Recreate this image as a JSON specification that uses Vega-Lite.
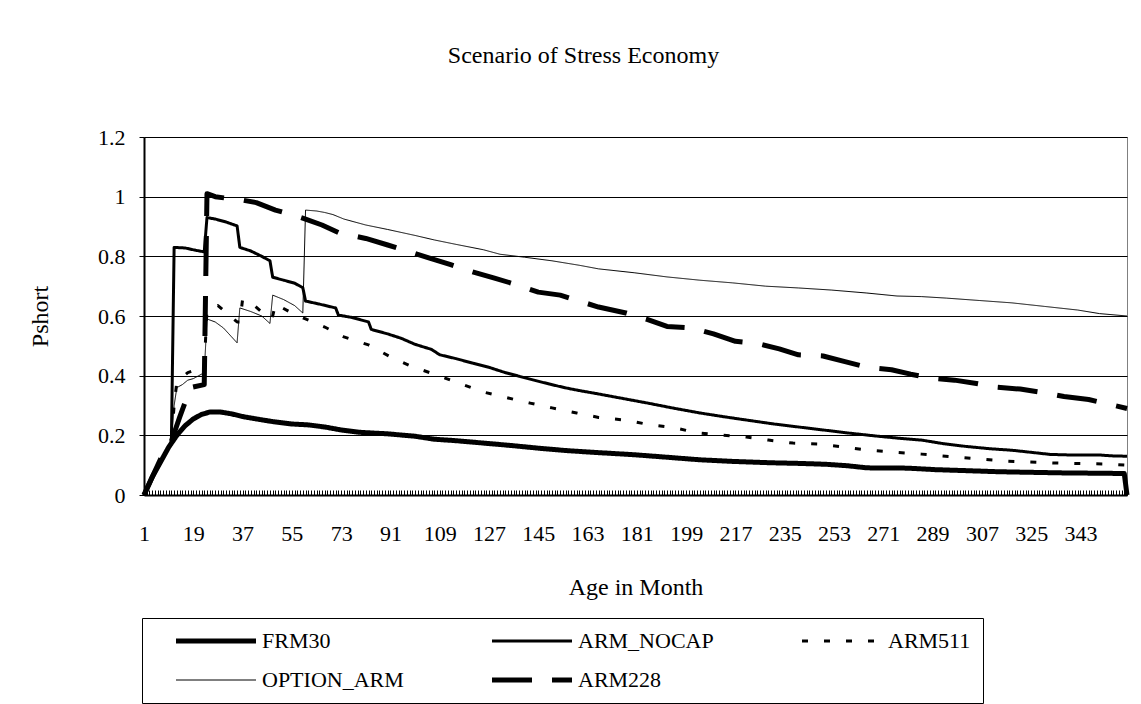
{
  "$schema": "https://vega.github.io/schema/vega-lite/v6.json",
  "autosize": "none",
  "width": 983,
  "height": 358,
  "padding": {"left": 144, "top": 137, "right": 14, "bottom": 209},
  "background": "white",
  "title": {
    "text": "Scenario of Stress Economy",
    "font": "Liberation Serif",
    "fontSize": 24,
    "fontWeight": "normal",
    "color": "black",
    "anchor": "middle",
    "offset": 58,
    "dx": -52
  },
  "datasets": {
    "pts": [
      {"series":"FRM30","month":1,"value":0},{"series":"FRM30","month":4,"value":0.06},{"series":"FRM30","month":7,"value":0.11},{"series":"FRM30","month":10,"value":0.16},{"series":"FRM30","month":13,"value":0.2},{"series":"FRM30","month":16,"value":0.232},{"series":"FRM30","month":19,"value":0.255},{"series":"FRM30","month":22,"value":0.27},{"series":"FRM30","month":25,"value":0.278},{"series":"FRM30","month":29,"value":0.278},{"series":"FRM30","month":33,"value":0.272},{"series":"FRM30","month":37,"value":0.263},{"series":"FRM30","month":42,"value":0.255},{"series":"FRM30","month":48,"value":0.246},{"series":"FRM30","month":55,"value":0.238},{"series":"FRM30","month":61,"value":0.235},{"series":"FRM30","month":67,"value":0.228},{"series":"FRM30","month":73,"value":0.218},{"series":"FRM30","month":80,"value":0.21},{"series":"FRM30","month":90,"value":0.205},{"series":"FRM30","month":100,"value":0.197},{"series":"FRM30","month":107,"value":0.187},{"series":"FRM30","month":115,"value":0.182},{"series":"FRM30","month":125,"value":0.174},{"series":"FRM30","month":135,"value":0.166},{"series":"FRM30","month":145,"value":0.157},{"series":"FRM30","month":155,"value":0.149},{"series":"FRM30","month":167,"value":0.142},{"series":"FRM30","month":180,"value":0.135},{"series":"FRM30","month":190,"value":0.128},{"series":"FRM30","month":204,"value":0.118},{"series":"FRM30","month":215,"value":0.113},{"series":"FRM30","month":230,"value":0.108},{"series":"FRM30","month":240,"value":0.106},{"series":"FRM30","month":250,"value":0.103},{"series":"FRM30","month":258,"value":0.098},{"series":"FRM30","month":265,"value":0.091},{"series":"FRM30","month":280,"value":0.09},{"series":"FRM30","month":290,"value":0.085},{"series":"FRM30","month":300,"value":0.082},{"series":"FRM30","month":313,"value":0.078},{"series":"FRM30","month":325,"value":0.076},{"series":"FRM30","month":337,"value":0.074},{"series":"FRM30","month":350,"value":0.073},{"series":"FRM30","month":359,"value":0.072},{"series":"FRM30","month":360,"value":0},

      {"series":"ARM_NOCAP","month":1,"value":0},{"series":"ARM_NOCAP","month":4,"value":0.06},{"series":"ARM_NOCAP","month":7,"value":0.11},{"series":"ARM_NOCAP","month":10,"value":0.16},{"series":"ARM_NOCAP","month":11,"value":0.18},{"series":"ARM_NOCAP","month":12,"value":0.83},{"series":"ARM_NOCAP","month":16,"value":0.828},{"series":"ARM_NOCAP","month":20,"value":0.82},{"series":"ARM_NOCAP","month":23,"value":0.815},{"series":"ARM_NOCAP","month":24,"value":0.93},{"series":"ARM_NOCAP","month":27,"value":0.925},{"series":"ARM_NOCAP","month":31,"value":0.915},{"series":"ARM_NOCAP","month":35,"value":0.902},{"series":"ARM_NOCAP","month":36,"value":0.83},{"series":"ARM_NOCAP","month":40,"value":0.818},{"series":"ARM_NOCAP","month":44,"value":0.8},{"series":"ARM_NOCAP","month":47,"value":0.785},{"series":"ARM_NOCAP","month":48,"value":0.73},{"series":"ARM_NOCAP","month":52,"value":0.72},{"series":"ARM_NOCAP","month":56,"value":0.71},{"series":"ARM_NOCAP","month":59,"value":0.695},{"series":"ARM_NOCAP","month":60,"value":0.65},{"series":"ARM_NOCAP","month":65,"value":0.64},{"series":"ARM_NOCAP","month":71,"value":0.627},{"series":"ARM_NOCAP","month":72,"value":0.603},{"series":"ARM_NOCAP","month":77,"value":0.595},{"series":"ARM_NOCAP","month":83,"value":0.58},{"series":"ARM_NOCAP","month":84,"value":0.555},{"series":"ARM_NOCAP","month":90,"value":0.54},{"series":"ARM_NOCAP","month":95,"value":0.525},{"series":"ARM_NOCAP","month":100,"value":0.505},{"series":"ARM_NOCAP","month":106,"value":0.488},{"series":"ARM_NOCAP","month":109,"value":0.47},{"series":"ARM_NOCAP","month":115,"value":0.457},{"series":"ARM_NOCAP","month":121,"value":0.442},{"series":"ARM_NOCAP","month":127,"value":0.428},{"series":"ARM_NOCAP","month":133,"value":0.41},{"series":"ARM_NOCAP","month":138,"value":0.398},{"series":"ARM_NOCAP","month":143,"value":0.386},{"series":"ARM_NOCAP","month":149,"value":0.372},{"series":"ARM_NOCAP","month":155,"value":0.359},{"series":"ARM_NOCAP","month":160,"value":0.35},{"series":"ARM_NOCAP","month":165,"value":0.342},{"series":"ARM_NOCAP","month":175,"value":0.325},{"series":"ARM_NOCAP","month":185,"value":0.308},{"series":"ARM_NOCAP","month":195,"value":0.29},{"series":"ARM_NOCAP","month":204,"value":0.275},{"series":"ARM_NOCAP","month":213,"value":0.262},{"series":"ARM_NOCAP","month":222,"value":0.25},{"series":"ARM_NOCAP","month":231,"value":0.238},{"series":"ARM_NOCAP","month":240,"value":0.228},{"series":"ARM_NOCAP","month":249,"value":0.218},{"series":"ARM_NOCAP","month":258,"value":0.208},{"series":"ARM_NOCAP","month":268,"value":0.198},{"series":"ARM_NOCAP","month":277,"value":0.19},{"series":"ARM_NOCAP","month":285,"value":0.184},{"series":"ARM_NOCAP","month":293,"value":0.172},{"series":"ARM_NOCAP","month":301,"value":0.163},{"series":"ARM_NOCAP","month":310,"value":0.155},{"series":"ARM_NOCAP","month":318,"value":0.15},{"series":"ARM_NOCAP","month":325,"value":0.143},{"series":"ARM_NOCAP","month":332,"value":0.136},{"series":"ARM_NOCAP","month":340,"value":0.134},{"series":"ARM_NOCAP","month":350,"value":0.134},{"series":"ARM_NOCAP","month":355,"value":0.131},{"series":"ARM_NOCAP","month":360,"value":0.13},

      {"series":"ARM511","month":1,"value":0},{"series":"ARM511","month":4,"value":0.06},{"series":"ARM511","month":7,"value":0.11},{"series":"ARM511","month":10,"value":0.16},{"series":"ARM511","month":11,"value":0.18},{"series":"ARM511","month":12,"value":0.3},{"series":"ARM511","month":13,"value":0.38},{"series":"ARM511","month":17,"value":0.41},{"series":"ARM511","month":23,"value":0.43},{"series":"ARM511","month":24,"value":0.62},{"series":"ARM511","month":28,"value":0.635},{"series":"ARM511","month":35,"value":0.58},{"series":"ARM511","month":36,"value":0.58},{"series":"ARM511","month":37,"value":0.655},{"series":"ARM511","month":40,"value":0.645},{"series":"ARM511","month":47,"value":0.59},{"series":"ARM511","month":48,"value":0.6},{"series":"ARM511","month":49,"value":0.64},{"series":"ARM511","month":55,"value":0.61},{"series":"ARM511","month":60,"value":0.59},{"series":"ARM511","month":67,"value":0.563},{"series":"ARM511","month":74,"value":0.53},{"series":"ARM511","month":83,"value":0.503},{"series":"ARM511","month":91,"value":0.463},{"series":"ARM511","month":99,"value":0.43},{"series":"ARM511","month":108,"value":0.402},{"series":"ARM511","month":116,"value":0.375},{"series":"ARM511","month":125,"value":0.345},{"series":"ARM511","month":134,"value":0.325},{"series":"ARM511","month":142,"value":0.308},{"series":"ARM511","month":150,"value":0.292},{"series":"ARM511","month":159,"value":0.275},{"series":"ARM511","month":167,"value":0.26},{"series":"ARM511","month":177,"value":0.251},{"series":"ARM511","month":186,"value":0.235},{"series":"ARM511","month":195,"value":0.225},{"series":"ARM511","month":203,"value":0.208},{"series":"ARM511","month":212,"value":0.201},{"series":"ARM511","month":221,"value":0.194},{"series":"ARM511","month":229,"value":0.184},{"series":"ARM511","month":238,"value":0.174},{"series":"ARM511","month":247,"value":0.171},{"series":"ARM511","month":256,"value":0.161},{"series":"ARM511","month":265,"value":0.151},{"series":"ARM511","month":273,"value":0.145},{"series":"ARM511","month":285,"value":0.137},{"series":"ARM511","month":298,"value":0.127},{"series":"ARM511","month":315,"value":0.114},{"series":"ARM511","month":334,"value":0.107},{"series":"ARM511","month":352,"value":0.104},{"series":"ARM511","month":360,"value":0.1},

      {"series":"OPTION_ARM","month":1,"value":0},{"series":"OPTION_ARM","month":4,"value":0.06},{"series":"OPTION_ARM","month":7,"value":0.11},{"series":"OPTION_ARM","month":10,"value":0.16},{"series":"OPTION_ARM","month":11,"value":0.18},{"series":"OPTION_ARM","month":12,"value":0.3},{"series":"OPTION_ARM","month":13,"value":0.36},{"series":"OPTION_ARM","month":15,"value":0.37},{"series":"OPTION_ARM","month":17,"value":0.385},{"series":"OPTION_ARM","month":19,"value":0.39},{"series":"OPTION_ARM","month":21,"value":0.4},{"series":"OPTION_ARM","month":23,"value":0.41},{"series":"OPTION_ARM","month":24,"value":0.59},{"series":"OPTION_ARM","month":27,"value":0.58},{"series":"OPTION_ARM","month":30,"value":0.56},{"series":"OPTION_ARM","month":33,"value":0.53},{"series":"OPTION_ARM","month":35,"value":0.51},{"series":"OPTION_ARM","month":36,"value":0.627},{"series":"OPTION_ARM","month":40,"value":0.615},{"series":"OPTION_ARM","month":44,"value":0.6},{"series":"OPTION_ARM","month":47,"value":0.575},{"series":"OPTION_ARM","month":48,"value":0.67},{"series":"OPTION_ARM","month":52,"value":0.655},{"series":"OPTION_ARM","month":56,"value":0.635},{"series":"OPTION_ARM","month":59,"value":0.61},{"series":"OPTION_ARM","month":60,"value":0.955},{"series":"OPTION_ARM","month":64,"value":0.952},{"series":"OPTION_ARM","month":67,"value":0.947},{"series":"OPTION_ARM","month":70,"value":0.94},{"series":"OPTION_ARM","month":74,"value":0.925},{"series":"OPTION_ARM","month":78,"value":0.915},{"series":"OPTION_ARM","month":82,"value":0.905},{"series":"OPTION_ARM","month":90,"value":0.89},{"series":"OPTION_ARM","month":100,"value":0.87},{"series":"OPTION_ARM","month":107,"value":0.855},{"series":"OPTION_ARM","month":115,"value":0.84},{"series":"OPTION_ARM","month":125,"value":0.822},{"series":"OPTION_ARM","month":131,"value":0.807},{"series":"OPTION_ARM","month":140,"value":0.797},{"series":"OPTION_ARM","month":150,"value":0.785},{"series":"OPTION_ARM","month":160,"value":0.77},{"series":"OPTION_ARM","month":167,"value":0.758},{"series":"OPTION_ARM","month":180,"value":0.745},{"series":"OPTION_ARM","month":192,"value":0.731},{"series":"OPTION_ARM","month":204,"value":0.72},{"series":"OPTION_ARM","month":216,"value":0.711},{"series":"OPTION_ARM","month":228,"value":0.7},{"series":"OPTION_ARM","month":240,"value":0.694},{"series":"OPTION_ARM","month":252,"value":0.687},{"series":"OPTION_ARM","month":265,"value":0.677},{"series":"OPTION_ARM","month":276,"value":0.667},{"series":"OPTION_ARM","month":285,"value":0.665},{"series":"OPTION_ARM","month":294,"value":0.66},{"series":"OPTION_ARM","month":306,"value":0.652},{"series":"OPTION_ARM","month":318,"value":0.644},{"series":"OPTION_ARM","month":330,"value":0.632},{"series":"OPTION_ARM","month":342,"value":0.62},{"series":"OPTION_ARM","month":350,"value":0.608},{"series":"OPTION_ARM","month":360,"value":0.6},

      {"series":"ARM228","month":1,"value":0},{"series":"ARM228","month":4,"value":0.06},{"series":"ARM228","month":7,"value":0.12},{"series":"ARM228","month":11,"value":0.18},{"series":"ARM228","month":14,"value":0.26},{"series":"ARM228","month":18,"value":0.36},{"series":"ARM228","month":23,"value":0.37},{"series":"ARM228","month":24,"value":1.01},{"series":"ARM228","month":27,"value":1.0},{"series":"ARM228","month":31,"value":0.995},{"series":"ARM228","month":36,"value":0.99},{"series":"ARM228","month":42,"value":0.98},{"series":"ARM228","month":49,"value":0.955},{"series":"ARM228","month":55,"value":0.94},{"series":"ARM228","month":60,"value":0.925},{"series":"ARM228","month":66,"value":0.905},{"series":"ARM228","month":72,"value":0.88},{"series":"ARM228","month":82,"value":0.86},{"series":"ARM228","month":90,"value":0.838},{"series":"ARM228","month":98,"value":0.815},{"series":"ARM228","month":105,"value":0.795},{"series":"ARM228","month":113,"value":0.772},{"series":"ARM228","month":121,"value":0.748},{"series":"ARM228","month":129,"value":0.727},{"series":"ARM228","month":137,"value":0.705},{"series":"ARM228","month":145,"value":0.68},{"series":"ARM228","month":153,"value":0.67},{"series":"ARM228","month":160,"value":0.65},{"series":"ARM228","month":167,"value":0.63},{"series":"ARM228","month":177,"value":0.61},{"series":"ARM228","month":185,"value":0.588},{"series":"ARM228","month":192,"value":0.565},{"series":"ARM228","month":201,"value":0.56},{"series":"ARM228","month":209,"value":0.54},{"series":"ARM228","month":217,"value":0.515},{"series":"ARM228","month":225,"value":0.508},{"series":"ARM228","month":233,"value":0.49},{"series":"ARM228","month":240,"value":0.47},{"series":"ARM228","month":249,"value":0.466},{"series":"ARM228","month":257,"value":0.447},{"series":"ARM228","month":265,"value":0.428},{"series":"ARM228","month":274,"value":0.42},{"series":"ARM228","month":281,"value":0.405},{"series":"ARM228","month":288,"value":0.392},{"series":"ARM228","month":297,"value":0.385},{"series":"ARM228","month":305,"value":0.374},{"series":"ARM228","month":312,"value":0.362},{"series":"ARM228","month":321,"value":0.355},{"series":"ARM228","month":329,"value":0.344},{"series":"ARM228","month":337,"value":0.33},{"series":"ARM228","month":346,"value":0.32},{"series":"ARM228","month":353,"value":0.305},{"series":"ARM228","month":360,"value":0.29}
    ]
  },
  "data": {"name": "pts"},
  "mark": {"type": "line", "color": "black", "strokeCap": "butt", "strokeJoin": "round"},
  "encoding": {
    "x": {
      "field": "month",
      "type": "quantitative",
      "scale": {"domain": [1, 360], "nice": false, "zero": false},
      "axis": {
        "tickCount": 359,
        "labelExpr": "(datum.value - 1) % 18 === 0 && datum.value <= 343 ? datum.label : ''",
        "labelOverlap": false,
        "labelFlush": false,
        "labelBound": false,
        "labelFont": "Liberation Serif",
        "labelFontSize": 22,
        "labelColor": "black",
        "labelPadding": 33,
        "tickSize": -5,
        "tickColor": "black",
        "tickWidth": 1,
        "domainColor": "black",
        "domainWidth": 2,
        "grid": false,
        "title": "Age in Month",
        "titleFont": "Liberation Serif",
        "titleFontSize": 24,
        "titleFontWeight": "normal",
        "titleColor": "black",
        "titlePadding": 31
      }
    },
    "y": {
      "field": "value",
      "type": "quantitative",
      "scale": {"domain": [0, 1.2], "nice": false},
      "axis": {
        "values": [0, 0.2, 0.4, 0.6, 0.8, 1, 1.2],
        "format": "~g",
        "labelFont": "Liberation Serif",
        "labelFontSize": 22,
        "labelColor": "black",
        "labelPadding": 14,
        "tickSize": 5,
        "tickColor": "black",
        "domainColor": "black",
        "domainWidth": 2,
        "grid": true,
        "gridColor": "black",
        "gridWidth": 1,
        "gridOpacity": 1,
        "title": "Pshort",
        "titleFont": "Liberation Serif",
        "titleFontSize": 24,
        "titleFontWeight": "normal",
        "titleColor": "black",
        "titlePadding": 45
      }
    },
    "strokeDash": {
      "field": "series",
      "type": "nominal",
      "scale": {
        "domain": ["FRM30", "ARM_NOCAP", "ARM511", "OPTION_ARM", "ARM228"],
        "range": [[1, 0], [1, 0], [6, 16], [1, 0], [40, 20]]
      },
      "legend": {
        "title": null,
        "orient": "none",
        "legendX": -2,
        "legendY": 481,
        "direction": "horizontal",
        "columns": 3,
        "symbolType": "M-5,0H5",
        "symbolSize": 256,
        "symbolOffset": 51,
        "symbolFillColor": "transparent",
        "symbolStrokeColor": "black",
        "labelFont": "Liberation Serif",
        "labelFontSize": 22,
        "labelColor": "black",
        "labelOffset": 35,
        "columnPadding": 66,
        "rowPadding": 17,
        "padding": 12,
        "strokeColor": "black",
        "fillColor": "white"
      }
    },
    "strokeWidth": {
      "field": "series",
      "type": "nominal",
      "scale": {
        "type": "ordinal",
        "domain": ["FRM30", "ARM_NOCAP", "ARM511", "OPTION_ARM", "ARM228"],
        "range": [5, 3, 3, 1, 5]
      },
      "legend": {
        "title": null,
        "orient": "none",
        "legendX": -2,
        "legendY": 481,
        "direction": "horizontal",
        "columns": 3,
        "symbolType": "M-5,0H5",
        "symbolSize": 256,
        "symbolOffset": 51,
        "symbolFillColor": "transparent",
        "symbolStrokeColor": "black",
        "labelFont": "Liberation Serif",
        "labelFontSize": 22,
        "labelColor": "black",
        "labelOffset": 35,
        "columnPadding": 66,
        "rowPadding": 17,
        "padding": 12,
        "strokeColor": "black",
        "fillColor": "white"
      }
    }
  },
  "config": {
    "view": {"stroke": "#808080", "strokeWidth": 1},
    "font": "Liberation Serif"
  }
}
